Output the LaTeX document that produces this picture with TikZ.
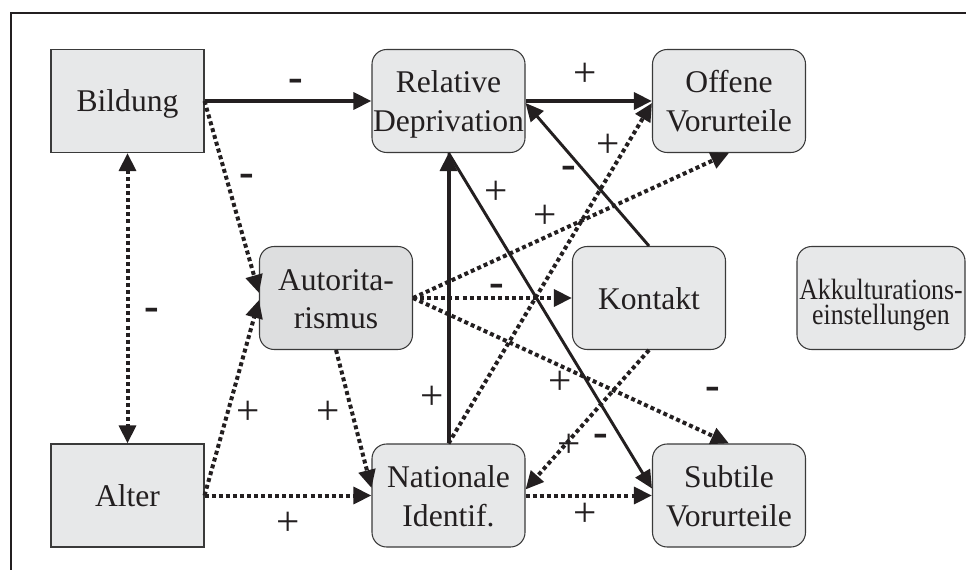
\documentclass[tikz,border=0pt]{standalone}
\usepackage{fontspec}
\setmainfont{Liberation Serif}
\newfontfamily\narrowserif[FakeStretch=0.88]{Liberation Serif}
\usetikzlibrary{arrows.meta,calc}
\definecolor{ink}{HTML}{231F20}
\definecolor{boxfill}{HTML}{E7E8E9}
\definecolor{boxfilldark}{HTML}{DDDEDF}
\definecolor{boxline}{HTML}{3A3A3A}
% two centred lines whose baseline is the one of the second line
\newcommand\pairlines[3][29pt]{\vbox{\baselineskip=#1\lineskiplimit=-100pt\lineskip=0pt
  \halign{\hfil##\hfil\cr#2\cr#3\cr}}}
\begin{document}
\begin{tikzpicture}[x=0.75pt,y=-0.75pt,
  hd/.tip={Triangle[length=13.5pt,width=12.5pt]},
  plainbox/.style={draw=boxline, line width=0.8pt, fill=boxfill, text=ink,
    minimum width=114.75pt, minimum height=77.25pt, inner sep=0pt,
    font=\fontsize{23.7}{29}\selectfont},
  roundbox/.style={plainbox, rounded corners=11pt},
  oneline/.style={text height=16.5pt, text depth=0pt},
  twoline/.style={text height=46pt, text depth=0pt},
  sign/.style={inner sep=0pt, text=ink, font=\fontsize{31}{31}\selectfont},
  minus/.style={sign, font=\fontsize{33}{33}\selectfont\bfseries},
  link/.style={draw=ink, -hd},
  strong/.style={link, line width=3pt},
  slim/.style={link, line width=2.2pt},
  dotlink/.style={link, line width=3pt, dash pattern=on 3pt off 2.3pt},
]
\useasboundingbox (0,0) rectangle (966,570);

% frame
\coordinate (fbl) at (11,570);
\coordinate (ftl) at (11,13);
\coordinate (ftr) at (966,13);
\draw[ink, line width=1.6pt] (fbl) -- (ftl) -- (ftr);

% boxes
\node[plainbox, oneline] (Bildung) at (127.5,101) {Bildung};
\node[plainbox, oneline] (Alter) at (127.5,495.5) {Alter};
\node[roundbox, twoline] (RD) at (448.5,101) {\pairlines{Relative}{Deprivation}};
\node[roundbox, twoline] (OV) at (729,101) {\pairlines{Offene}{Vorurteile}};
\node[roundbox, twoline, fill=boxfilldark] (Aut) at (336,298) {\pairlines{Autorita-}{rismus}};
\node[roundbox, oneline] (K) at (649,298) {Kontakt};
\node[roundbox, minimum width=126pt, text height=39.8pt, text depth=0pt,
      font=\narrowserif\fontsize{22}{19}\selectfont] (Akk) at (881,298)
      {\pairlines[19pt]{Akkulturations-}{einstellungen}};
\node[roundbox, twoline] (NI) at (448.5,495.5) {\pairlines{Nationale}{Identif.}};
\node[roundbox, twoline] (SV) at (729,495.5) {\pairlines{Subtile}{Vorurteile}};

% paths
\draw[strong] (Bildung.east) -- (RD.west);
\draw[dotlink] (Bildung.east) -- ($(Aut.west)+(0,-5)$);
\draw[dotlink, hd-hd] (Bildung.south) -- (Alter.north);
\draw[dotlink] (Alter.east) -- ($(Aut.west)+(0,2)$);
\draw[dotlink] (Alter.east) -- (NI.west);
\draw[dotlink] (Aut.south) -- ($(NI.west)+(0,-7.5)$);
\draw[strong] (NI.north) -- (RD.south);
\draw[slim] (RD.south) -- ($(SV.west)+(0,-7)$);
\draw[strong] (RD.east) -- (OV.west);
\draw[slim] (K.north) -- ($(RD.east)+(0,2)$);
\draw[dotlink] (NI.north) -- ($(OV.west)+(0,2)$);
\draw[dotlink] (Aut.east) -- (OV.south);
\draw[dotlink] (Aut.east) -- (K.west);
\draw[dotlink] (Aut.east) -- (SV.north);
\draw[dotlink] (K.south) -- ($(NI.east)+(0,-6)$);
\draw[dotlink] (NI.east) -- (SV.west);

% signs
\node[minus] (s1) at (296,85) {-};
\node[minus] (s2) at (247,180) {-};
\node[sign] (s3) at (585,75) {+};
\node[sign] (s4) at (608,146) {+};
\node[minus] (s5) at (569,172) {-};
\node[sign] (s6) at (496,193) {+};
\node[sign] (s7) at (545,217) {+};
\node[minus] (s8) at (152,314) {-};
\node[minus] (s9) at (497,290) {-};
\node[sign] (s10) at (248,413) {+};
\node[sign] (s11) at (328,413) {+};
\node[sign] (s12) at (432,398) {+};
\node[sign] (s13) at (560,383) {+};
\node[minus] (s14) at (713,393) {-};
\node[sign] (s15) at (569,446) {+};
\node[minus] (s16) at (601,440) {-};
\node[sign] (s17) at (288,524) {+};
\node[sign] (s18) at (585,515) {+};
\end{tikzpicture}
\end{document}
